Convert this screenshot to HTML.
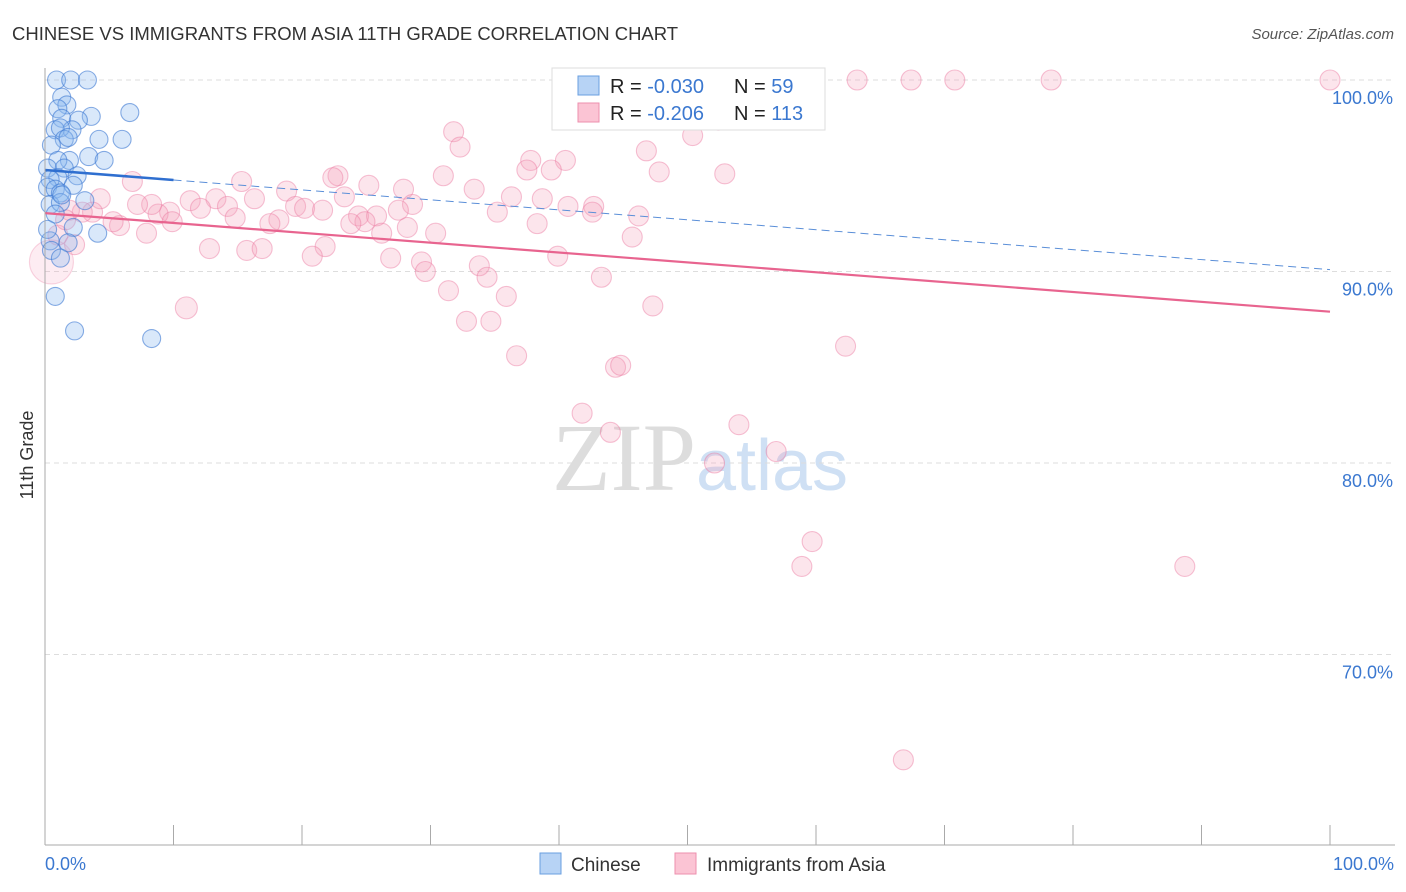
<!DOCTYPE html>
<html><head><meta charset="utf-8"><style>
body{margin:0;background:#fff;font-family:"Liberation Sans",sans-serif;}
svg{display:block}
</style></head><body>
<svg id="chart" width="1406" height="892" xmlns="http://www.w3.org/2000/svg">
<text x="12" y="40" font-size="18.5" fill="#333">CHINESE VS IMMIGRANTS FROM ASIA 11TH GRADE CORRELATION CHART</text>
<text x="1394" y="39" font-size="15" fill="#555" text-anchor="end" font-style="italic">Source: ZipAtlas.com</text>
<text x="700" y="490" font-size="96" text-anchor="middle" font-family="Liberation Serif,serif"><tspan fill="#ddd">ZIP</tspan><tspan fill="#cfe0f4" font-family="Liberation Sans,sans-serif" font-size="72">atlas</tspan></text>
<g id="grid"></g><g id="pts"></g><g id="lines"></g><g id="axes"></g>
<text transform="translate(33,455) rotate(-90)" font-size="18" fill="#333" text-anchor="middle">11th Grade</text>
<g>
<rect x="552" y="68" width="273" height="62" fill="#fff" stroke="#ddd"/>
<rect x="578" y="76" width="21" height="19" fill="#b7d3f5" stroke="#6a9fe0"/>
<rect x="578" y="103" width="21" height="19" fill="#fbc4d4" stroke="#ee8fae"/>
<text x="610" y="93" font-size="20" fill="#222">R = <tspan fill="#3b78d0">-0.030</tspan></text>
<text x="734" y="93" font-size="20" fill="#222">N = <tspan fill="#3b78d0"> 59</tspan></text>
<text x="610" y="120" font-size="20" fill="#222">R = <tspan fill="#3b78d0"> -0.206</tspan></text>
<text x="734" y="120" font-size="20" fill="#222">N = <tspan fill="#3b78d0">113</tspan></text>
</g>
<g>
<rect x="540" y="853" width="21" height="21" fill="#b7d3f5" stroke="#6a9fe0"/>
<text x="571" y="871" font-size="19" fill="#333">Chinese</text>
<rect x="675" y="853" width="21" height="21" fill="#fbc4d4" stroke="#ee8fae"/>
<text x="707" y="871" font-size="19" fill="#333">Immigrants from Asia</text>
</g>
</svg>
<script>
const yTicks=[100,90,80,70];
const yTickLabels=["100.0%","90.0%","80.0%","70.0%"];
const xTickLabels=["0.0%","100.0%"];
const blueX=[0.9,2.0,3.3,1.3,1.7,1.0,6.6,3.6,1.3,2.6,2.1,0.8,1.2,4.2,6.0,1.5,1.8,0.5,3.4,4.6,1.9,1.0,0.2,1.5,2.5,1.0,0.4,0.2,0.8,1.2,2.2,3.1,0.4,1.2,2.2,4.1,0.4,1.8,0.5,1.2,0.8,2.3,8.3,0.8,0.2,1.3];
const blueY=[100,100,100,99.1,98.7,98.5,98.3,98.1,98.0,97.9,97.4,97.4,97.5,96.9,96.9,96.9,97.0,96.6,96.0,95.8,95.8,95.8,95.4,95.4,95.0,94.9,94.8,94.4,94.3,94.1,94.5,93.7,93.5,93.6,92.3,92.0,91.6,91.5,91.1,90.7,88.7,86.9,86.5,93.0,92.2,94.0];
const pinkX=[53.4,63.2,67.4,70.8,78.3,100,31.8,32.3,50.4,52.4,46.8,37.8,40.5,37.5,39.4,47.8,52.9,15.3,22.8,22.4,31,25.2,27.9,18.8,33.4,36.3,38.7,23.3,16.3,13.3,28.6,40.7,42.7,42.6,35.2,46.2,19.5,20.2,21.6,18.2,14.2,14.8,17.5,24.4,25.8,27.5,24.9,23.8,26.2,28.2,30.4,38.3,45.7,11.3,12.1,9.7,8.8,8.3,7.2,6.8,5.8,5.3,4.3,3.7,2.9,1.9,7.9,9.9,12.8,15.7,16.9,21.8,20.8,26.9,29.3,29.6,33.8,34.4,39.9,43.3,31.4,35.9,47.3,32.8,34.7,11.0,36.7,44.4,44.8,62.3,41.8,44.0,54.0,56.9,52.1,59.7,58.9,88.7,66.8,1.0,1.6,2.3,0.5];
const pinkY=[100,100,100,100,100,100,97.3,96.5,97.1,97.9,96.3,95.8,95.8,95.3,95.3,95.2,95.1,94.7,95.0,94.9,95,94.5,94.3,94.2,94.3,93.9,93.8,93.9,93.8,93.8,93.5,93.4,93.4,93.1,93.1,92.9,93.4,93.3,93.2,92.7,93.4,92.8,92.5,92.9,92.9,93.2,92.6,92.5,92.0,92.3,92.0,92.5,91.8,93.7,93.3,93.1,93.0,93.5,93.5,94.7,92.4,92.6,93.8,93.1,93.1,93.2,92.0,92.6,91.2,91.1,91.2,91.3,90.8,90.7,90.5,90.0,90.3,89.7,90.8,89.7,89.0,88.7,88.2,87.4,87.4,88.1,85.6,85.0,85.1,86.1,82.6,81.6,82.0,80.6,80.0,75.9,74.6,74.6,64.5,91.9,92.7,91.4,90.5];
const blueTrend=[95.3,90.1];
const pinkTrend=[93.05,87.9];
const NS="http://www.w3.org/2000/svg";
const X=v=>45+v*12.85, Y=v=>80+(100-v)*19.15;
function mk(tag,attrs,parent){const e=document.createElementNS(NS,tag);for(const k in attrs)e.setAttribute(k,attrs[k]);document.getElementById(parent).appendChild(e);return e;}
yTicks.forEach((t,i)=>{
 const l=mk('line',{x1:45,x2:1395,y1:Y(t),y2:Y(t),stroke:'#ddd','stroke-dasharray':'5,4'},'grid');
 
 
 const tx=mk('text',{x:1393,y:Y(t)+24,'font-size':18,fill:'#3b78d0','text-anchor':'end'},'axes');
 tx.textContent=yTickLabels[i];
 
 
});
let ax=mk('line',{x1:45,x2:45,y1:68,y2:845,stroke:'#aaa'},'axes');


ax=mk('line',{x1:45,x2:1395,y1:845,y2:845,stroke:'#aaa'},'axes');


for(let i=0;i<=10;i++){const tk=mk('line',{x1:X(i*10),x2:X(i*10),y1:825,y2:845,stroke:'#aaa'},'axes');
 
 }
[[0,'start',45],[100,'end',1394]].forEach((d,i)=>{const t=mk('text',{x:d[2],y:870,'font-size':18,fill:'#3b78d0','text-anchor':d[1]},'axes');t.textContent=xTickLabels[i];
 
 });
pinkX.forEach((x,i)=>{const big=(i===pinkX.length-1);const r=big?22:(i===85?11:10);
 const c=mk('circle',{cx:X(x),cy:Y(pinkY[i]),r:r,fill:big?'rgba(246,160,188,0.2)':'rgba(246,160,188,0.28)',stroke:big?'rgba(236,120,160,0.3)':'rgba(236,120,160,0.45)','stroke-width':1.1},'pts');
 
 });
blueX.forEach((x,i)=>{
 const c=mk('circle',{cx:X(x),cy:Y(blueY[i]),r:9,fill:'rgba(140,185,240,0.33)',stroke:'rgba(60,120,210,0.6)','stroke-width':1.1},'pts');
 
 });
const bAt=x=>blueTrend[0]+(blueTrend[1]-blueTrend[0])*x/100;
let ln=mk('line',{x1:X(0),y1:Y(bAt(0)),x2:X(10),y2:Y(bAt(10)),stroke:'#2f6fd0','stroke-width':2.5},'lines');


ln=mk('line',{x1:X(10),y1:Y(bAt(10)),x2:X(100),y2:Y(bAt(100)),stroke:'#5b8fd8','stroke-width':1,'stroke-dasharray':'8,5'},'lines');


ln=mk('line',{x1:X(0),y1:Y(pinkTrend[0]),x2:X(100),y2:Y(pinkTrend[1]),stroke:'#e8648f','stroke-width':2.2},'lines');


</script>
</body></html>
